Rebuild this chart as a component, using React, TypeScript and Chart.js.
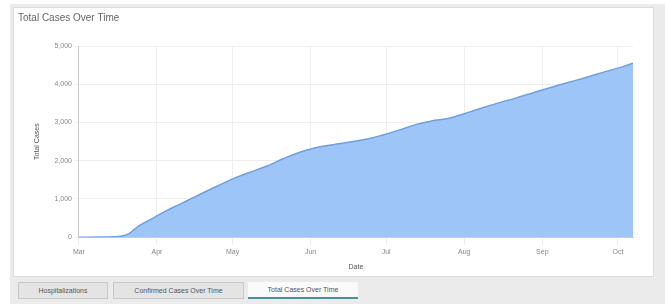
import React, { useEffect, useRef } from "react";
import { Chart, registerables } from "chart.js";

Chart.register(...registerables);

// Day index since Mar 1 (x) and cumulative total cases (y)
const dayIndex = [0, 7, 14, 17, 20, 23, 26, 30, 35, 40, 45, 49, 55, 62, 68, 75, 81, 88, 94, 101, 107, 114, 120, 127, 134, 140, 147, 153, 160, 167, 174, 181, 188, 195, 202, 209, 216, 220];
const totalCases = [0, 2, 10, 30, 100, 260, 380, 520, 700, 860, 1020, 1150, 1340, 1550, 1700, 1870, 2050, 2230, 2340, 2420, 2480, 2560, 2660, 2800, 2950, 3040, 3110, 3230, 3380, 3520, 3650, 3790, 3930, 4060, 4190, 4330, 4460, 4550];
const monthStarts = [0, 31, 61, 92, 122, 153, 184, 214];
const monthLabels = ["Mar", "Apr", "May", "Jun", "Jul", "Aug", "Sep", "Oct"];
const tabLabels = ["Hospitalizations", "Confirmed Cases Over Time", "Total Cases Over Time"];

export default function App() {
  const ref = useRef<HTMLCanvasElement>(null);
  useEffect(() => {
    document.body.style.margin = "0";
    const ctx = ref.current!;
    const chart = new Chart(ctx, {
      type: "line",
      data: {
        datasets: [
          {
            label: "Total Cases",
            data: dayIndex.map((d, i) => ({ x: d, y: totalCases[i] })),
            borderColor: "#6f9fe0",
            backgroundColor: "#9ec5f7",
            borderWidth: 1.5,
            fill: "origin",
            pointRadius: 0,
            tension: 0.4,
          },
        ],
      },
      options: {
        animation: false,
        responsive: false,
        maintainAspectRatio: false,
        layout: { padding: { left: 4, right: 20, top: 0, bottom: 5 } },
        plugins: {
          legend: { display: false },
          tooltip: { enabled: false },
          title: {
            display: true,
            text: "Total Cases Over Time",
            align: "start",
            color: "#666",
            font: { family: "Liberation Sans", size: 10, weight: "normal" },
            padding: { top: 4, bottom: 22 },
          },
        },
        scales: {
          x: {
            type: "linear",
            min: 0,
            max: 220,
            afterBuildTicks: (scale: any) => {
              scale.ticks = monthStarts.map((v) => ({ value: v }));
            },
            ticks: {
              autoSkip: false,
              maxRotation: 0,
              color: "#888",
              font: { family: "Liberation Sans", size: 7 },
              callback: (_v: any, i: number) => monthLabels[i],
            },
            grid: { color: "#eeeeee" },
            border: { color: "#cccccc" },
            title: {
              display: true,
              text: "Date",
              color: "#555",
              font: { family: "Liberation Sans", size: 7 },
              padding: { top: 3, bottom: 0 },
            },
          },
          y: {
            min: 0,
            max: 5000,
            ticks: {
              stepSize: 1000,
              color: "#888",
              font: { family: "Liberation Sans", size: 7 },
            },
            grid: { color: "#eeeeee", tickLength: 4 },
            border: { color: "#cccccc" },
            title: {
              display: true,
              text: "Total Cases",
              color: "#555",
              font: { family: "Liberation Sans", size: 7 },
              padding: { top: 15, bottom: 10 },
            },
          },
        },
      },
    });
    return () => chart.destroy();
  }, []);

  const tabPos = [
    { left: 8, width: 90 },
    { left: 103, width: 131 },
    { left: 238, width: 110 },
  ];

  return (
    <div style={{ position: "absolute", left: 0, top: 0, width: 665, height: 304, background: "#fff", overflow: "hidden" }}>
      <div style={{ position: "absolute", left: 10, top: 4, width: 655, height: 300, background: "#ebebeb" }}>
        <div style={{ position: "absolute", left: 3, top: 3, width: 641, height: 270, background: "#fff", border: "1px solid #dddddd", boxSizing: "border-box" }}>
          <canvas ref={ref} width={639} height={268} style={{ display: "block" }} />
        </div>
        {tabLabels.map((t, i) => {
          const active = i === 2;
          return (
            <div
              key={t}
              style={{
                position: "absolute",
                left: tabPos[i].left,
                top: 278,
                width: tabPos[i].width,
                height: 17,
                boxSizing: "border-box",
                background: active ? "#fafafa" : "#e4e4e4",
                border: active ? "none" : "1px solid #c8c8c8",
                borderBottom: active ? "2px solid #4f8f9a" : "1px solid #c8c8c8",
                fontFamily: "Liberation Sans",
                fontSize: 7,
                color: "#555",
                textAlign: "center",
                lineHeight: "15px",
              }}
            >
              {t}
            </div>
          );
        })}
      </div>
    </div>
  );
}
